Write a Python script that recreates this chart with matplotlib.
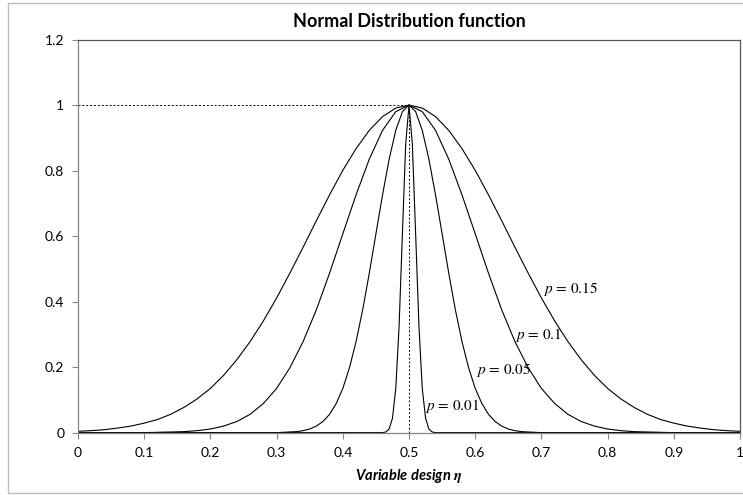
import matplotlib
matplotlib.use("Agg")
import matplotlib.pyplot as plt
from matplotlib.patches import Rectangle
from matplotlib.ticker import FormatStrFormatter

# curve values (normal curves centred on 0.5)
x_wide = [0.00, 0.02, 0.04, 0.06, 0.08, 0.10, 0.12, 0.14, 0.16, 0.18,
          0.20, 0.22, 0.24, 0.26, 0.28, 0.30, 0.32, 0.34, 0.36, 0.38,
          0.40, 0.42, 0.44, 0.46, 0.48, 0.50, 0.52, 0.54, 0.56, 0.58,
          0.60, 0.62, 0.64, 0.66, 0.68, 0.70, 0.72, 0.74, 0.76, 0.78,
          0.80, 0.82, 0.84, 0.86, 0.88, 0.90, 0.92, 0.94, 0.96, 0.98, 1.00]
y_p15 = [0.004, 0.006, 0.009, 0.014, 0.020, 0.029, 0.040, 0.056, 0.077, 0.103,
         0.135, 0.175, 0.223, 0.278, 0.341, 0.411, 0.487, 0.566, 0.647, 0.726,
         0.801, 0.867, 0.923, 0.965, 0.991, 1.000, 0.991, 0.965, 0.923, 0.867,
         0.801, 0.726, 0.647, 0.566, 0.487, 0.411, 0.341, 0.278, 0.223, 0.175,
         0.135, 0.103, 0.077, 0.056, 0.040, 0.029, 0.020, 0.014, 0.009, 0.006, 0.004]
y_p10 = [0.000, 0.000, 0.000, 0.000, 0.000, 0.000, 0.001, 0.002, 0.003, 0.006,
         0.011, 0.020, 0.034, 0.056, 0.089, 0.135, 0.198, 0.278, 0.375, 0.487,
         0.607, 0.726, 0.835, 0.923, 0.980, 1.000, 0.980, 0.923, 0.835, 0.726,
         0.607, 0.487, 0.375, 0.278, 0.198, 0.135, 0.089, 0.056, 0.034, 0.020,
         0.011, 0.006, 0.003, 0.002, 0.001, 0.000, 0.000, 0.000, 0.000, 0.000, 0.000]

x_mid = [0.00, 0.30, 0.31, 0.32, 0.33, 0.34, 0.35, 0.36, 0.37, 0.38, 0.39,
         0.40, 0.41, 0.42, 0.43, 0.44, 0.45, 0.46, 0.47, 0.48, 0.49,
         0.50, 0.51, 0.52, 0.53, 0.54, 0.55, 0.56, 0.57, 0.58, 0.59,
         0.60, 0.61, 0.62, 0.63, 0.64, 0.65, 0.66, 0.67, 0.68, 0.69, 0.70, 1.00]
y_p05 = [0.000, 0.000, 0.001, 0.002, 0.003, 0.006, 0.011, 0.020, 0.034, 0.056, 0.089,
         0.135, 0.198, 0.278, 0.375, 0.487, 0.607, 0.726, 0.835, 0.923, 0.980,
         1.000, 0.980, 0.923, 0.835, 0.726, 0.607, 0.487, 0.375, 0.278, 0.198,
         0.135, 0.089, 0.056, 0.034, 0.020, 0.011, 0.006, 0.003, 0.002, 0.001, 0.000, 0.000]

x_narrow = [0.00, 0.455, 0.460, 0.465, 0.470, 0.475, 0.480, 0.485, 0.490, 0.495,
            0.500, 0.505, 0.510, 0.515, 0.520, 0.525, 0.530, 0.535, 0.540, 0.545, 1.00]
y_p01 = [0.000, 0.000, 0.000, 0.002, 0.011, 0.044, 0.135, 0.325, 0.607, 0.882,
         1.000, 0.882, 0.607, 0.325, 0.135, 0.044, 0.011, 0.002, 0.000, 0.000, 0.000]

labels = ["$p\\,=\\,0.15$", "$p\\,=\\,0.1$", "$p\\,=\\,0.05$", "$p\\,=\\,0.01$"]
label_xy = [(0.702, 0.438), (0.660, 0.298), (0.601, 0.191), (0.524, 0.081)]

x_ticks = [0, 0.1, 0.2, 0.3, 0.4, 0.5, 0.6, 0.7, 0.8, 0.9, 1.0]
y_ticks = [0, 0.2, 0.4, 0.6, 0.8, 1.0, 1.2]

plt.rcParams["font.family"] = ["Lato", "DejaVu Sans"]
plt.rcParams["mathtext.fontset"] = "stix"

fig = plt.figure(figsize=(7.43, 4.95), dpi=100)
ax = fig.add_axes([0.105, 0.126, 0.891, 0.794])

fig.patches.append(Rectangle((0.0108, 0.004), 1.0, 0.99, transform=fig.transFigure,
                             fill=False, edgecolor="#bdbdbd", linewidth=1.0))

for xs, ys in [(x_wide, y_p15), (x_wide, y_p10), (x_mid, y_p05), (x_narrow, y_p01)]:
    ax.plot(xs, ys, color="black", linewidth=0.8, solid_joinstyle="round")

ax.plot([0, 0.5], [1, 1], color="black", linewidth=0.7, linestyle=(0, (2, 2)))
ax.plot([0.5, 0.5], [0, 1], color="black", linewidth=0.7, linestyle=(0, (2, 2)))

for text, (tx, ty) in zip(labels, label_xy):
    ax.text(tx, ty, text, fontsize=11, ha="left", va="center")

ax.set_xlim(0, 1)
ax.set_ylim(0, 1.2)
ax.set_xticks(x_ticks)
ax.set_yticks(y_ticks)
ax.xaxis.set_major_formatter(FormatStrFormatter("%g"))
ax.yaxis.set_major_formatter(FormatStrFormatter("%g"))
ax.tick_params(direction="out", length=4, width=0.8, color="#868686",
               labelsize=10, labelcolor="black", pad=6)

for side in ["left", "bottom"]:
    ax.spines[side].set_color("#868686")
for side in ["top", "right"]:
    ax.spines[side].set_color("#595959")
for spine in ax.spines.values():
    spine.set_linewidth(0.9)

ax.set_title("Normal Distribution function", fontsize=13, fontweight="bold", pad=9)
ax.set_xlabel("Variable design $\\boldsymbol{\\eta}$", fontsize=10.5, fontweight="bold",
              fontstyle="italic", labelpad=6)

fig.savefig("out.png", dpi=100)
